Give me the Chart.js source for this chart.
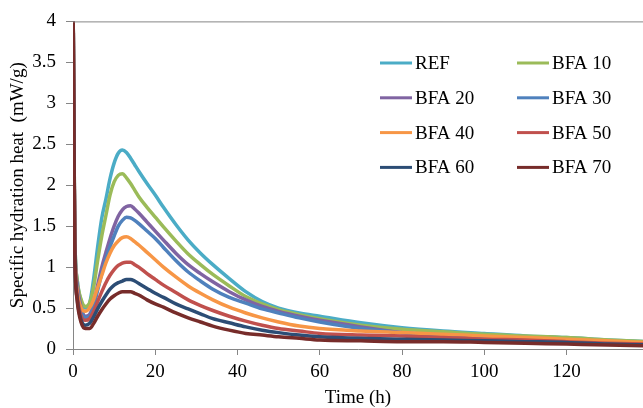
<!DOCTYPE html>
<html>
<head>
<meta charset="utf-8">
<script src="https://cdn.jsdelivr.net/npm/chart.js@4"></script>
<style>
    html, body { margin: 0; padding: 0; background: #fff; }
    #wrap { width: 643px; height: 408px; position: relative; }
</style>
</head>
<body>
<div id="wrap"><canvas id="heatChart" width="643" height="408"></canvas></div>
<script>
// time axis (h)
const hours = [0, 0.4, 1, 2, 3, 4, 5, 6, 7, 8, 9, 10, 11, 12, 13, 14, 15, 16, 18, 20, 22, 25, 28, 31, 34, 38, 42, 46, 50, 55, 60, 70, 80, 90, 100, 110, 120, 130, 139];

// specific hydration heat (mW/g)
const ref   = [4.5, 1.5, 0.85, 0.58, 0.5, 0.55, 0.85, 1.25, 1.6, 1.83, 2.08, 2.27, 2.39, 2.43, 2.4, 2.33, 2.25, 2.17, 2.02, 1.88, 1.73, 1.52, 1.33, 1.17, 1.03, 0.86, 0.7, 0.58, 0.5, 0.44, 0.4, 0.32, 0.26, 0.22, 0.19, 0.16, 0.14, 0.11, 0.09];
const bfa10 = [4.5, 1.5, 0.85, 0.6, 0.52, 0.56, 0.75, 1.08, 1.38, 1.63, 1.88, 2.04, 2.12, 2.14, 2.09, 2.02, 1.94, 1.86, 1.73, 1.61, 1.49, 1.32, 1.16, 1.03, 0.91, 0.77, 0.64, 0.55, 0.48, 0.42, 0.37, 0.29, 0.24, 0.21, 0.18, 0.16, 0.14, 0.11, 0.09];
const bfa20 = [4.5, 1.45, 0.8, 0.5, 0.4, 0.42, 0.55, 0.78, 1.0, 1.18, 1.35, 1.5, 1.62, 1.7, 1.74, 1.75, 1.71, 1.66, 1.55, 1.44, 1.33, 1.17, 1.03, 0.92, 0.82, 0.7, 0.6, 0.52, 0.46, 0.4, 0.35, 0.27, 0.2, 0.17, 0.14, 0.12, 0.1, 0.08, 0.06];
const bfa30 = [4.5, 1.4, 0.75, 0.47, 0.385, 0.4, 0.52, 0.72, 0.92, 1.1, 1.25, 1.38, 1.5, 1.57, 1.61, 1.6, 1.57, 1.53, 1.44, 1.35, 1.24, 1.08, 0.94, 0.83, 0.73, 0.63, 0.56, 0.49, 0.44, 0.38, 0.33, 0.25, 0.2, 0.17, 0.14, 0.12, 0.1, 0.08, 0.06];
const bfa40 = [4.5, 1.4, 0.72, 0.5, 0.46, 0.5, 0.6, 0.75, 0.9, 1.05, 1.17, 1.26, 1.32, 1.36, 1.37, 1.35, 1.31, 1.27, 1.18, 1.09, 1.0, 0.88, 0.77, 0.68, 0.6, 0.51, 0.44, 0.38, 0.33, 0.28, 0.25, 0.22, 0.2, 0.18, 0.16, 0.14, 0.12, 0.1, 0.08];
const bfa50 = [4.5, 1.35, 0.68, 0.4, 0.35, 0.37, 0.46, 0.58, 0.7, 0.81, 0.9, 0.97, 1.02, 1.05, 1.06, 1.06, 1.03, 1.0, 0.92, 0.85, 0.78, 0.69, 0.6, 0.53, 0.47, 0.4, 0.34, 0.29, 0.25, 0.22, 0.19, 0.17, 0.16, 0.14, 0.12, 0.11, 0.09, 0.07, 0.06];
const bfa60 = [4.5, 1.3, 0.62, 0.35, 0.29, 0.31, 0.39, 0.49, 0.58, 0.66, 0.73, 0.78, 0.81, 0.83, 0.85, 0.85, 0.83, 0.8, 0.74, 0.68, 0.63, 0.55, 0.49, 0.43, 0.37, 0.32, 0.27, 0.23, 0.2, 0.17, 0.15, 0.13, 0.12, 0.11, 0.1, 0.09, 0.08, 0.06, 0.05];
const bfa70 = [4.5, 1.3, 0.6, 0.32, 0.25, 0.25, 0.31, 0.4, 0.48, 0.55, 0.61, 0.65, 0.68, 0.7, 0.7, 0.7, 0.68, 0.66, 0.6, 0.55, 0.51, 0.44, 0.38, 0.33, 0.28, 0.23, 0.19, 0.17, 0.15, 0.13, 0.11, 0.1, 0.09, 0.09, 0.08, 0.07, 0.06, 0.05, 0.04];

const seriesNames = ['REF', 'BFA 10', 'BFA 20', 'BFA 30', 'BFA 40', 'BFA 50', 'BFA 60', 'BFA 70'];
const seriesValues = [ref, bfa10, bfa20, bfa30, bfa40, bfa50, bfa60, bfa70];
const seriesColors = ['#4bacc6', '#9bbb59', '#8064a2', '#4f81bd', '#f79646', '#c0504d', '#2c4d75', '#772c2a'];

const yTicks = [0, 0.5, 1, 1.5, 2, 2.5, 3, 3.5, 4];
const xTicks = [0, 20, 40, 60, 80, 100, 120];

const FONT = "'Liberation Serif', 'Times New Roman', serif";
const AXIS_GRAY = '#868686';

// two-column legend drawn inside the plot, like the Excel original
const gridLegend = {
    id: 'gridLegend',
    afterDraw(chart) {
        const ctx = chart.ctx;
        ctx.save();
        ctx.font = `19px ${FONT}`;
        ctx.textBaseline = 'middle';
        ctx.fillStyle = '#000';
        chart.data.datasets.forEach((ds, i) => {
            const col = i % 2;
            const row = Math.floor(i / 2);
            const x = col === 0 ? 380 : 517;
            const y = 63 + row * 34.8;
            ctx.strokeStyle = ds.borderColor;
            ctx.lineWidth = 3;
            ctx.beginPath();
            ctx.moveTo(x, y);
            ctx.lineTo(x + 32, y);
            ctx.stroke();
            ctx.fillText(ds.label, x + 35, y + 1);
        });
        // top edge of the plot box
        const a = chart.chartArea;
        ctx.strokeStyle = AXIS_GRAY;
        ctx.lineWidth = 1;
        ctx.beginPath();
        ctx.moveTo(a.left, a.top + 0.5);
        ctx.lineTo(a.right, a.top + 0.5);
        ctx.stroke();
        ctx.restore();
    }
};

function initChart() {
    const ctx = document.getElementById('heatChart').getContext('2d');

    Chart.defaults.font.family = FONT;
    Chart.defaults.color = '#000';

    new Chart(ctx, {
        type: 'line',
        data: {
            datasets: seriesNames.map((name, i) => ({
                label: name,
                data: hours.map((h, k) => ({ x: h, y: seriesValues[i][k] })),
                borderColor: seriesColors[i],
                backgroundColor: seriesColors[i],
                borderWidth: 3.5,
                pointRadius: 0,
                cubicInterpolationMode: 'monotone',
                order: seriesNames.length - i // last series on top
            }))
        },
        options: {
            responsive: false,
            animation: false,
            layout: { padding: { top: 20, right: 0, left: 0, bottom: 0 } },
            scales: {
                x: {
                    type: 'linear',
                    min: 0,
                    max: 138.6,
                    afterBuildTicks: s => { s.ticks = xTicks.map(v => ({ value: v })); },
                    afterFit: s => { s.height = 59; },
                    grid: { display: true, drawOnChartArea: false, drawTicks: true, tickLength: 6, color: AXIS_GRAY },
                    border: { display: true, color: AXIS_GRAY, width: 1 },
                    ticks: { font: { size: 19 }, padding: 6, maxRotation: 0, autoSkip: false },
                    title: {
                        display: true,
                        text: 'Time (h)',
                        font: { size: 19, lineHeight: 1 },
                        padding: { top: 0, bottom: 0 }
                    }
                },
                y: {
                    min: 0,
                    max: 4,
                    afterBuildTicks: s => { s.ticks = yTicks.map(v => ({ value: v })); },
                    afterFit: s => { s.width = 73; },
                    grid: { display: true, drawOnChartArea: false, drawTicks: true, tickLength: 7, color: AXIS_GRAY },
                    border: { display: true, color: AXIS_GRAY, width: 1 },
                    ticks: { font: { size: 19 }, padding: 10, callback: v => String(v) },
                    title: {
                        display: true,
                        text: 'Specific hydration heat  (mW/g)',
                        font: { size: 19, lineHeight: 1.2 },
                        padding: { top: 7, bottom: 0 }
                    }
                }
            },
            plugins: {
                legend: { display: false },
                tooltip: { enabled: false }
            }
        },
        plugins: [gridLegend]
    });
}

document.addEventListener('DOMContentLoaded', () => {
    initChart();
});
</script>
</body>
</html>
